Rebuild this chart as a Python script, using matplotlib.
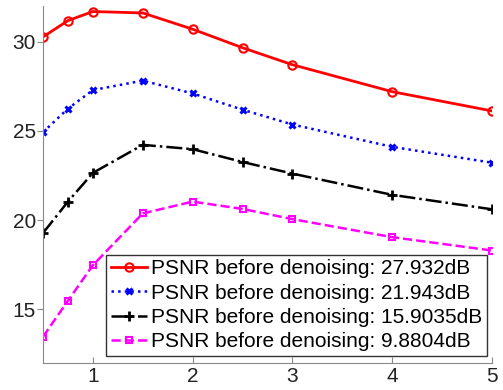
import matplotlib
matplotlib.use("Agg")
import matplotlib.pyplot as plt

x = [0.5, 0.75, 1, 1.5, 2, 2.5, 3, 4, 5]
red = [30.27, 31.18, 31.69, 31.61, 30.70, 29.66, 28.71, 27.20, 26.12]
blue = [24.93, 26.25, 27.29, 27.82, 27.10, 26.19, 25.36, 24.11, 23.22]
black = [19.28, 21.04, 22.65, 24.22, 23.98, 23.26, 22.61, 21.42, 20.61]
magenta = [13.47, 15.49, 17.48, 20.38, 21.04, 20.63, 20.06, 19.05, 18.30]
labels = ["PSNR before denoising: 27.932dB",
          "PSNR before denoising: 21.943dB",
          "PSNR before denoising: 15.9035dB",
          "PSNR before denoising: 9.8804dB"]

plt.rcParams['font.family'] = ['Liberation Sans', 'DejaVu Sans']

fig = plt.figure(figsize=(5.03, 3.9), dpi=100)
ax = fig.add_axes([43/503, 27/390, (492-43)/503, (363-6)/390])

ax.plot(x, red, color='red', linestyle='-', lw=2, marker='o', ms=6,
        mfc='none', mec='red', mew=1.5, label=labels[0])
ax.plot(x, blue, color='blue', linestyle=':', lw=1.8, marker='x', ms=5,
        mew=2.2, label=labels[1])
ax.plot(x, black, color='black', linestyle='-.', lw=1.8, marker='+', ms=7,
        mew=2, label=labels[2])
ax.plot(x, magenta, color='magenta', linestyle='--', lw=1.8, marker='s', ms=5,
        mfc='none', mec='magenta', mew=1.5, label=labels[3])

ax.set_xlim(0.5, 5)
ax.set_ylim(12, 32)
ax.set_xticks([1, 2, 3, 4, 5])
ax.set_yticks([15, 20, 25, 30])
for s in ['top', 'right']:
    ax.spines[s].set_visible(False)
for s in ['left', 'bottom']:
    ax.spines[s].set_color('#888888')
ax.tick_params(axis='both', labelsize=15, colors='#888888', labelcolor='#222222',
               length=4, direction='in', pad=3)
ax.tick_params(axis='y', direction='out', pad=1)

leg = ax.legend(loc='lower right', bbox_to_anchor=((487-43)/449, (363-356)/357),
                fontsize=15, frameon=True, fancybox=False, framealpha=1,
                edgecolor='#333333', borderpad=0.22, labelspacing=0.26,
                handlelength=1.75, handletextpad=0.2, borderaxespad=0)
leg.get_frame().set_linewidth(1.0)

fig.savefig("out.png", dpi=100)
